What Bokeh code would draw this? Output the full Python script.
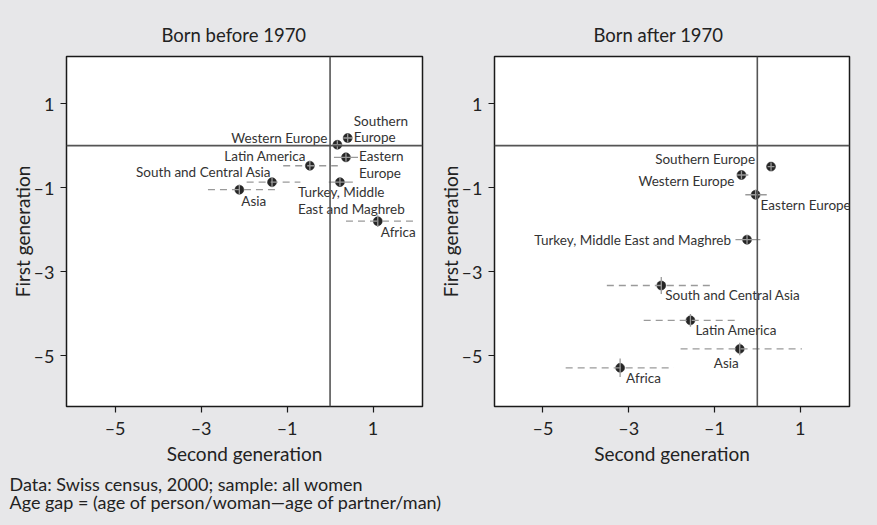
from bokeh.plotting import figure
from bokeh.models import Range1d, FixedTicker, Span, ColumnDataSource
from bokeh.layouts import row, column
from bokeh.core.properties import value
from bokeh.embed import file_html
from bokeh.resources import INLINE

# ---------------- data ----------------
ticks = [-5, -3, -1, 1]
tick_labels = {-5: "–5", -3: "–3", -1: "–1", 1: "1"}

# Born before 1970
b_names = ["Southern\nEurope", "Western Europe", "Eastern\nEurope", "Latin America",
           "South and Central Asia", "Asia", "Turkey, Middle\nEast and Maghreb", "Africa"]
b_x = [0.41, 0.17, 0.37, -0.47, -1.35, -2.11, 0.23, 1.11]
b_y = [0.18, 0.02, -0.28, -0.48, -0.87, -1.05, -0.87, -1.80]
b_xlo = [0.31, 0.07, 0.09, -1.09, -1.94, -2.84, -0.03, 0.37]
b_xhi = [0.51, 0.27, 0.65, 0.18, -0.69, -1.23, 0.53, 1.96]
b_ylo = [0.08, -0.08, -0.38, -0.60, -0.99, -1.17, -0.97, -1.94]
b_yhi = [0.28, 0.12, -0.18, -0.36, -0.75, -0.93, -0.77, -1.66]

# Born after 1970
a_names = ["Southern Europe", "Western Europe", "Eastern Europe",
           "Turkey, Middle East and Maghreb", "South and Central Asia",
           "Latin America", "Asia", "Africa"]
a_x = [0.32, -0.37, -0.04, -0.24, -2.24, -1.56, -0.41, -3.20]
a_y = [-0.50, -0.70, -1.17, -2.24, -3.33, -4.16, -4.84, -5.29]
a_xlo = [0.24, -0.47, -0.28, -0.51, -3.51, -2.65, -1.79, -4.47]
a_xhi = [0.40, -0.21, 0.22, 0.07, -1.02, -0.47, 1.04, -1.95]
a_ylo = [-0.60, -0.80, -1.29, -2.36, -3.53, -4.31, -4.99, -5.51]
a_yhi = [-0.40, -0.60, -1.05, -2.12, -3.13, -4.01, -4.69, -5.07]

# ---------------- styles (label placement in px, dash flags) ----------------
b_dash = [False, False, False, True, True, True, False, True]
b_dx = [6, -10, 13, -4, -1, 2, -42, 3]
b_dy = [-9, -7, 7.5, -10, -10, 11, 18, 11]
b_align = ["left", "right", "left", "right", "right", "left", "left", "left"]

a_dash = [False, False, False, False, True, True, True, True]
a_dx = [-16, -7, 5, -16, 4, 5, -1, 6]
a_dy = [-8, 6.5, 10, 0, 10, 10, 14.5, 10]
a_align = ["right", "right", "left", "right", "left", "left", "right", "left"]

BG = "#e7e7e9"
FONT = "Lato"
TXT = "#222222"


def panel(title, names, x, y, xlo, xhi, ylo, yhi, dash, dx, dy, align,
          width, border_left, border_right, title_offset):
    p = figure(width=width, height=470, output_backend="svg", toolbar_location=None,
               x_range=Range1d(-6.13, 2.15), y_range=Range1d(-6.21, 2.12),
               min_border_left=border_left, min_border_right=border_right,
               min_border_top=56, min_border_bottom=64,
               background_fill_color="white", border_fill_color=BG)
    p.grid.visible = False
    p.outline_line_color = "#1a1a1a"
    p.outline_line_width = 1.5
    p.title.text = title
    p.title.align = "left"
    p.title.offset = title_offset
    p.title.text_font = FONT
    p.title.text_font_size = "18.5px"
    p.title.text_font_style = "normal"
    p.title.text_color = TXT
    p.title.standoff = 22

    for ax, lab in ((p.xaxis, "Second generation"), (p.yaxis, "First generation")):
        ax.ticker = FixedTicker(ticks=ticks)
        ax.major_label_overrides = tick_labels
        ax.minor_tick_line_color = None
        ax.major_tick_in = 0
        ax.major_tick_out = 6
        ax.major_tick_line_color = "#1a1a1a"
        ax.major_tick_line_width = 1.2
        ax.axis_line_color = None
        ax.major_label_text_font = FONT
        ax.major_label_text_font_size = "18px"
        ax.major_label_text_color = TXT
        ax.axis_label = lab
        ax.axis_label_text_font = FONT
        ax.axis_label_text_font_size = "19px"
        ax.axis_label_text_font_style = "normal"
        ax.axis_label_text_color = TXT
    p.yaxis.major_label_standoff = 6
    p.yaxis.axis_label_standoff = -3
    p.xaxis.major_label_standoff = 4
    p.xaxis.axis_label_standoff = 0

    p.add_layout(Span(location=0, dimension="width", line_color="#555555", line_width=1.6))
    p.add_layout(Span(location=0, dimension="height", line_color="#555555", line_width=1.6))

    p.scatter(x, y, size=9, fill_color="#262626", line_color="#262626", line_width=0.5)

    idx_d = [i for i in range(len(x)) if dash[i]]
    idx_s = [i for i in range(len(x)) if not dash[i]]
    for idx, dsh in ((idx_d, "7 5"), (idx_s, "solid")):
        p.segment([xlo[i] for i in idx], [y[i] for i in idx],
                  [xhi[i] for i in idx], [y[i] for i in idx],
                  line_color="#9a9a9a", line_width=1.3, line_dash=dsh)
    p.segment(x, ylo, x, yhi, line_color="#9a9a9a", line_width=1.3)

    src = ColumnDataSource(dict(x=x, y=y, t=names, dx=dx, dy=dy, al=align))
    p.text(x="x", y="y", text="t", x_offset="dx", y_offset="dy", text_align="al",
           source=src, text_baseline="middle", text_font=value(FONT),
           text_font_size="13.5px", text_color="#333333", text_line_height=1.05)
    return p


p1 = panel("Born before 1970", b_names, b_x, b_y, b_xlo, b_xhi, b_ylo, b_yhi,
           b_dash, b_dx, b_dy, b_align, 430, 66, 8, 95)
p2 = panel("Born after 1970", a_names, a_x, a_y, a_xlo, a_xhi, a_ylo, a_yhi,
           a_dash, a_dx, a_dy, a_align, 447, 64, 28, 99)

cap_lines = ["Data: Swiss census, 2000; sample: all women",
             "Age gap = (age of person/woman\u2014age of partner/man)"]
cap = figure(width=877, height=55, output_backend="svg", toolbar_location=None,
             x_range=Range1d(0, 877), y_range=Range1d(0, 55),
             min_border=0, border_fill_color=BG, background_fill_color=BG)
cap.axis.visible = False
cap.grid.visible = False
cap.outline_line_color = None
cap.text(x=[9, 9], y=[42, 24], text=cap_lines, text_baseline="middle",
         text_font=value(FONT), text_font_size="18px", text_color=TXT)

layout = column(row(p1, p2, spacing=0, styles={"background-color": BG}), cap,
                spacing=0, styles={"background-color": BG})
open("out.html", "w").write(file_html(layout, INLINE))
